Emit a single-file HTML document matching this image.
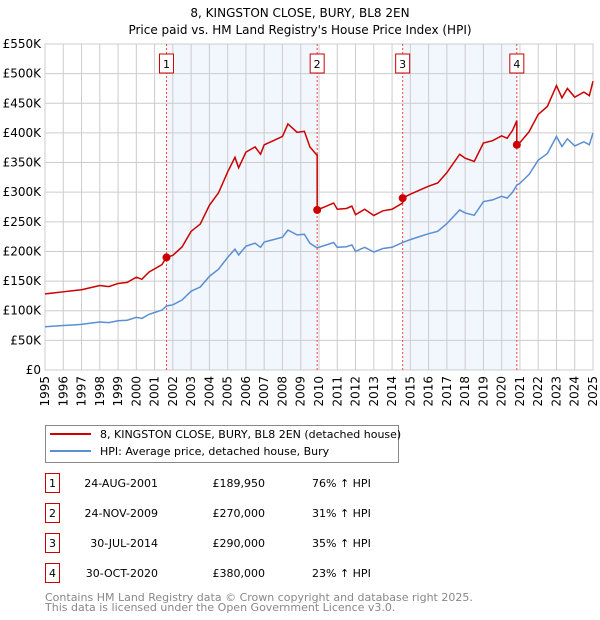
<!DOCTYPE html>
<html><head><meta charset="utf-8"><style>
body{margin:0;background:#fff;font-family:"DejaVu Sans","Liberation Sans",sans-serif;}
svg{display:block}
</style></head><body>
<svg id="chart" width="600" height="620" xmlns="http://www.w3.org/2000/svg" font-family="DejaVu Sans, Liberation Sans, sans-serif">
<text x="300" y="17" text-anchor="middle" font-size="12">8, KINGSTON CLOSE, BURY, BL8 2EN</text>
<text x="300" y="34" text-anchor="middle" font-size="12">Price paid vs. HM Land Registry's House Price Index (HPI)</text>
<g id="plot"></g>
<g id="xlabels" transform="rotate(-90)"></g>
<g>
<rect x="45.5" y="425.5" width="353" height="37" fill="#fff" stroke="#888"/>
<line x1="50" y1="434" x2="91" y2="434" stroke="#cc0000" stroke-width="2"/>
<text x="100" y="438" font-size="11">8, KINGSTON CLOSE, BURY, BL8 2EN (detached house)</text>
<line x1="50" y1="451" x2="91" y2="451" stroke="#5b8fd4" stroke-width="2"/>
<text x="100" y="455" font-size="11">HPI: Average price, detached house, Bury</text>
</g>
<g id="table" font-size="11"></g>
<text x="45" y="601" font-size="11" fill="#888">Contains HM Land Registry data © Crown copyright and database right 2025.</text>
<text x="45" y="611" font-size="11" fill="#888">This data is licensed under the Open Government Licence v3.0.</text>
</svg>
<script>
const hpiYears=[1995,1995.5,1996,1996.5,1997,1997.5,1998,1998.5,1999,1999.5,2000,2000.3,2000.7,2001,2001.4,2001.65,2002,2002.5,2003,2003.5,2004,2004.5,2005,2005.4,2005.6,2006,2006.5,2006.8,2007,2007.5,2008,2008.3,2008.8,2009.2,2009.5,2009.89,2010.3,2010.8,2011,2011.5,2011.8,2012,2012.5,2013,2013.5,2014,2014.57,2015,2015.5,2016,2016.5,2017,2017.7,2018,2018.5,2019,2019.5,2020,2020.3,2020.6,2020.83,2021,2021.5,2022,2022.5,2023,2023.3,2023.6,2024,2024.5,2024.8,2025];
const hpiValues=[73,74,75,76,77,79,81,80,83,84,89,87,94,97,101,108,110,118,133,140,158,170,190,204,194,209,214,207,216,220,224,236,228,229,214,206,210,215,207,208,211,200,207,199,205,207,215,220,225,230,234,247,270,265,261,284,287,293,290,300,312,315,330,354,365,394,377,390,378,385,380,400];
const saleLabels=["1","2","3","4"];
const saleYears=[2001.65,2009.9,2014.58,2020.83];
const salePrices=[189950,270000,290000,380000];
const saleDates=["24-AUG-2001","24-NOV-2009","30-JUL-2014","30-OCT-2020"];
const salePriceText=["£189,950","£270,000","£290,000","£380,000"];
const salePct=["76% ↑ HPI","31% ↑ HPI","35% ↑ HPI","23% ↑ HPI"];
const yTicks=[0,50,100,150,200,250,300,350,400,450,500,550];
const yTickLabels=["£0","£50K","£100K","£150K","£200K","£250K","£300K","£350K","£400K","£450K","£500K","£550K"];
const xTicks=[1995,1996,1997,1998,1999,2000,2001,2002,2003,2004,2005,2006,2007,2008,2009,2010,2011,2012,2013,2014,2015,2016,2017,2018,2019,2020,2021,2022,2023,2024,2025];

const L=45,R=593,T=44,B=370;
const X=y=>L+(y-1995)/(2025-1995)*(R-L);
const Y=v=>B-v/550*(B-T);
const NS="http://www.w3.org/2000/svg";
const plot=document.getElementById('plot');
const xg=document.getElementById('xlabels');
function mk(tag,attrs,parent){const e=document.createElementNS(NS,tag);for(const k in attrs)e.setAttribute(k,attrs[k]);(parent||plot).appendChild(e);return e;}
function hpiAt(t){for(let i=1;i<hpiYears.length;i++){if(t<=hpiYears[i]){const a=hpiYears[i-1],b=hpiYears[i];return hpiValues[i-1]+(hpiValues[i]-hpiValues[i-1])*(t-a)/(b-a);}}return hpiValues[hpiValues.length-1];}
const ratios=saleYears.map((s,i)=>salePrices[i]/1000/hpiAt(s));

for(let i=0;i<saleYears.length;i+=2){
  const x1=X(saleYears[i]),x2=i+1<saleYears.length?X(saleYears[i+1]):R;
  const r=mk('rect',{x:x1,y:T,width:x2-x1,height:B-T,fill:'#eef3fc',opacity:0.75});
  
  
}
yTicks.forEach((v,i)=>{
  const l=mk('line',{x1:L,x2:R,y1:Y(v),y2:Y(v),stroke:'#cccccc','stroke-width':1});
  
  
  const t=mk('text',{x:L-4,y:Y(v)+4,'text-anchor':'end','font-size':12});
  t.textContent=yTickLabels[i];
  
  
});
xTicks.forEach(yr=>{
  const l=mk('line',{x1:X(yr),x2:X(yr),y1:T,y2:B,stroke:'#cccccc','stroke-width':1});
  
  
  // inside rotate(-90) group: screen x = v, screen y = -u
  const t=mk('text',{x:-376,y:X(yr)+4,'text-anchor':'end','font-size':12},xg);
  t.textContent=yr;
  
  
});
mk('rect',{x:L,y:T,width:R-L,height:B-T,fill:'none',stroke:'#cccccc'});
saleYears.forEach((s,i)=>{
  const l=mk('line',{x1:X(s),x2:X(s),y1:T,y2:B,stroke:'#ee4444','stroke-width':1,'stroke-dasharray':'2,2'});
  
  
  const g=mk('g',{});
  
  
  mk('rect',{x:X(s)-7,y:54,width:14,height:19,fill:'#fff',stroke:'#cc0000'},g);
  const t=mk('text',{x:X(s),y:68,'text-anchor':'middle','font-size':11},g);
  t.textContent=saleLabels[i];
});
const hp=mk('polyline',{points:hpiYears.map((y,i)=>X(y)+','+Y(hpiValues[i])).join(' '),fill:'none',stroke:'#5b8fd4','stroke-width':1.5});


let pts=[];
function seg(a,b,r){hpiYears.forEach((y,i)=>{if(y>a&&y<b)pts.push([y,hpiValues[i]*r]);});}
seg(1994,saleYears[1],ratios[0]);
pts.push([saleYears[1],hpiAt(saleYears[1])*ratios[0]]);
for(let k=1;k<saleYears.length;k++){
  pts.push([saleYears[k],salePrices[k]/1000]);
  seg(saleYears[k],k+1<saleYears.length?saleYears[k+1]:2026,ratios[k]);
  if(k+1<saleYears.length)pts.push([saleYears[k+1],hpiAt(saleYears[k+1])*ratios[k]]);
}
const pl=mk('polyline',{points:pts.map(p=>X(p[0])+','+Y(p[1])).join(' '),fill:'none',stroke:'#cc0000','stroke-width':1.5});


saleYears.forEach((s,i)=>{
  const c=mk('circle',{cx:X(s),cy:Y(salePrices[i]/1000),r:4,fill:'#cc0000'});
  
  
});
const tb=document.getElementById('table');
saleLabels.forEach((lab,i)=>{
  const y=483+i*30;
  const g=mk('g',{},tb);
  
  
  mk('rect',{x:45.5,y:y-9.5,width:14,height:19,fill:'#fff',stroke:'#cc0000'},g);
  let t=mk('text',{x:52.5,y:y+4,'text-anchor':'middle'},g);t.textContent=lab;
  t=mk('text',{x:158,y:y+4,'text-anchor':'end'},g);t.textContent=saleDates[i];
  t=mk('text',{x:265,y:y+4,'text-anchor':'end'},g);t.textContent=salePriceText[i];
  t=mk('text',{x:312,y:y+4},g);t.textContent=salePct[i];
});
</script>
</body></html>
